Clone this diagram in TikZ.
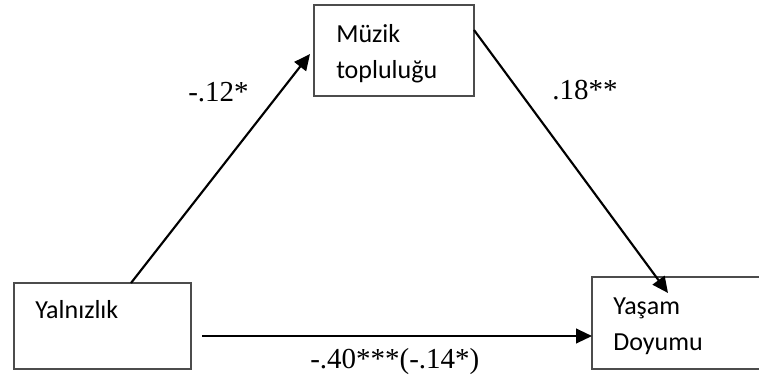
\documentclass[tikz,border=0pt]{standalone}
\usepackage{fontspec}
\setmainfont{Liberation Serif}
\newfontfamily\calfont{Carlito}
\usetikzlibrary{arrows.meta}
\begin{document}
\begin{tikzpicture}[x=0.75pt,y=-0.75pt,
  box/.style={draw=black!70,line width=0.9pt,rectangle,inner sep=0pt},
  boxtext/.style={anchor=base west,inner sep=0pt,font=\calfont\fontsize{19.5}{23}\selectfont},
  coef/.style={anchor=base west,inner sep=0pt,font=\fontsize{21.75}{26}\selectfont},
  arr/.style={line width=1.6pt,-{Triangle[length=12pt,width=11pt]}}]
\clip (0,0) rectangle (759,376);
\useasboundingbox (0,0) rectangle (759,376);
\node[box,minimum width=120pt,minimum height=68.25pt] (muz) at (394,50.5) {};
\node[box,minimum width=132.75pt,minimum height=64.5pt] (yal) at (102.5,326) {};
\node[box,minimum width=133.5pt,minimum height=69pt] (yas) at (681,323) {};
\node[boxtext] (muzA) at (336,42) {Müzik};
\node[boxtext] (muzB) at (336,78) {topluluğu};
\node[boxtext] (yalA) at (35,318) {Yalnızlık};
\node[boxtext] (yasA) at (613,314) {Yaşam};
\node[boxtext] (yasB) at (613,350) {Doyumu};
\coordinate (s1) at (131,283);
\coordinate (e1) at (310,54);
\coordinate (s2) at (474,30);
\coordinate (e2) at (668,293);
\coordinate (s3) at (202,336);
\coordinate (e3) at (592,336);
\draw[arr] (s1) -- (e1);
\draw[arr] (s2) -- (e2);
\draw[arr] (s3) -- (e3);
\node[coef] (c1) at (188,101) {-.12*};
\node[coef] (c2) at (552,99) {.18**};
\node[coef] (c3) at (310,368) {-.40***(-.14*)};
\end{tikzpicture}
\end{document}
